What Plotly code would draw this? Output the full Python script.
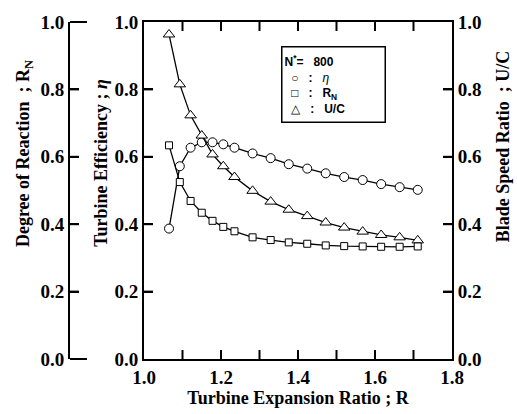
import plotly.graph_objects as go

# ---- data ----
expansion_ratio = [1.065, 1.093, 1.121, 1.150, 1.178, 1.206, 1.235, 1.282, 1.329,
                   1.376, 1.424, 1.472, 1.520, 1.568, 1.616, 1.664, 1.711]
efficiency_eta = [0.387, 0.572, 0.627, 0.643, 0.643, 0.637, 0.627, 0.610, 0.596,
                  0.578, 0.565, 0.551, 0.540, 0.531, 0.519, 0.510, 0.502]
reaction_RN = [0.634, 0.525, 0.469, 0.434, 0.410, 0.392, 0.379, 0.361, 0.353,
               0.346, 0.342, 0.337, 0.335, 0.334, 0.333, 0.333, 0.334]
speed_ratio_UC = [0.963, 0.815, 0.723, 0.663, 0.607, 0.572, 0.540, 0.499, 0.467,
                  0.443, 0.424, 0.405, 0.390, 0.378, 0.368, 0.361, 0.352]

x_range = [1.0, 1.8]
x_tick_marks = [1.1, 1.2, 1.3, 1.4, 1.5, 1.6, 1.7]   # tick marks every 0.1
y_tick_marks = [0.2, 0.4, 0.6, 0.8]

SERIF = "Liberation Serif"
tickfont = dict(family=SERIF, size=19, color="black", weight=700)
line_style = dict(color="black", width=1.3)

W, H = 517, 414
ml, mr, mt, mb = 70, 65, 14, 53
pw = W - ml - mr
ph = H - mt - mb
x_dom0 = (144 - ml) / pw
# hidden full-width x axis mapping values to the same pixels as the main x axis
x2_lo = x_range[0] - x_dom0 / (1 - x_dom0) * (x_range[1] - x_range[0])
TL = 9  # tick length (px)

def px(xpix):
    return (xpix - ml) / pw

def py(ypix):
    return (H - mb - ypix) / ph

fig = go.Figure()
fig.add_trace(go.Scatter(x=expansion_ratio, y=efficiency_eta, mode="lines+markers",
                         line=line_style, xaxis="x", yaxis="y", showlegend=False,
                         marker=dict(symbol="circle", size=9, color="white",
                                     line=dict(color="black", width=1))))
fig.add_trace(go.Scatter(x=expansion_ratio, y=reaction_RN, mode="lines+markers",
                         line=line_style, xaxis="x2", yaxis="y2", showlegend=False,
                         marker=dict(symbol="square", size=7, color="white",
                                     line=dict(color="black", width=1))))
fig.add_trace(go.Scatter(x=expansion_ratio, y=speed_ratio_UC, mode="lines+markers",
                         line=line_style, xaxis="x", yaxis="y3", showlegend=False,
                         marker=dict(symbol="triangle-up", size=10, color="white",
                                     line=dict(color="black", width=1))))

common_y = dict(range=[0, 1], tick0=0, dtick=0.2, tickformat=".1f",
                ticks="inside", ticklen=TL, tickwidth=2, tickcolor="black",
                showline=True, linecolor="black", linewidth=2,
                showgrid=False, zeroline=False, tickfont=tickfont)

fig.update_layout(
    width=W, height=H,
    margin=dict(l=ml, r=mr, t=mt, b=mb),
    paper_bgcolor="white", plot_bgcolor="rgba(0,0,0,0)",
    xaxis=dict(domain=[x_dom0, 1], range=x_range, tick0=1.0, dtick=0.2,
               tickformat=".1f", ticks="inside", ticklen=TL, tickwidth=2,
               anchor="y", tickcolor="black", showline=True, linecolor="black",
               linewidth=2, mirror="ticks", showgrid=False, zeroline=False,
               tickfont=tickfont,
               title=dict(text="Turbine Expansion Ratio ; R",
                          font=dict(family=SERIF, size=18, color="black", weight=700),
                          standoff=2)),
    xaxis2=dict(domain=[0, 1], range=[x2_lo, x_range[1]], anchor="y2",
                visible=False, showgrid=False, zeroline=False),
    yaxis=dict(anchor="x", side="left", **common_y),
    yaxis2=dict(anchor="x2", overlaying="y", side="left", **common_y),
    yaxis3=dict(anchor="x", overlaying="y", side="right", **common_y),
)

title_font = dict(family=SERIF, size=18, color="black", weight=700)
fig.add_annotation(text="Degree of Reaction  ; R<sub>N</sub>", textangle=-90,
                   xref="paper", yref="paper", x=px(24), y=py(150),
                   xanchor="center", yanchor="middle",
                   showarrow=False, font=title_font)
fig.add_annotation(text="Turbine Efficiency ; <i>η</i>", textangle=-90,
                   xref="paper", yref="paper", x=px(101), y=py(159),
                   xanchor="center", yanchor="middle",
                   showarrow=False, font=title_font)
fig.add_annotation(text="Blade Speed Ratio  ; U/C", textangle=-90,
                   xref="paper", yref="paper", x=px(503), y=py(142),
                   xanchor="center", yanchor="middle",
                   showarrow=False, font=title_font)

tick_line = dict(color="black", width=2)
# inward tick marks (bottom and top of the frame) at every 0.1
for xv in x_tick_marks:
    fig.add_shape(type="line", xref="x", yref="paper", x0=xv, x1=xv,
                  ysizemode="pixel", yanchor=0, y0=0, y1=TL, line=tick_line)
    fig.add_shape(type="line", xref="x", yref="paper", x0=xv, x1=xv,
                  ysizemode="pixel", yanchor=1, y0=0, y1=-TL, line=tick_line)
# inward tick marks on the three vertical axes
for yv in y_tick_marks:
    fig.add_shape(type="line", xref="paper", yref="y", y0=yv, y1=yv,
                  xsizemode="pixel", xanchor=x_dom0, x0=0, x1=TL, line=tick_line)
    fig.add_shape(type="line", xref="paper", yref="y3", y0=yv, y1=yv,
                  xsizemode="pixel", xanchor=1, x0=0, x1=-TL, line=tick_line)
    fig.add_shape(type="line", xref="paper", yref="y2", y0=yv, y1=yv,
                  xsizemode="pixel", xanchor=0, x0=0, x1=TL, line=tick_line)
# longer end ticks of the far-left axis
for yv in (0.0, 1.0):
    fig.add_shape(type="line", xref="paper", yref="paper", x0=0, x1=px(87),
                  y0=yv, y1=yv, line=dict(color="black", width=2))

nb = "\u00a0"
legend_text = (f"<b>N<sup>*</sup>={nb*3}800</b><br>"
               f"{nb*2}○{nb*3}<b>:</b>{nb*3}<i>η</i><br>"
               f"{nb*2}□{nb*3}<b>:</b>{nb*3}<b>R<sub>N</sub></b><br>"
               f"{nb*2}△{nb*3}<b>:</b>{nb*3}<b>U/C</b>")
fig.add_annotation(text=legend_text, xref="paper", yref="paper",
                   x=px(333.5), y=py(78.5), xanchor="center", yanchor="middle",
                   showarrow=False, align="left", width=98, height=70,
                   borderpad=2, bordercolor="black", borderwidth=1.5,
                   bgcolor="white",
                   font=dict(family="Liberation Sans", size=12, color="black"))

fig.write_html("out.html")
